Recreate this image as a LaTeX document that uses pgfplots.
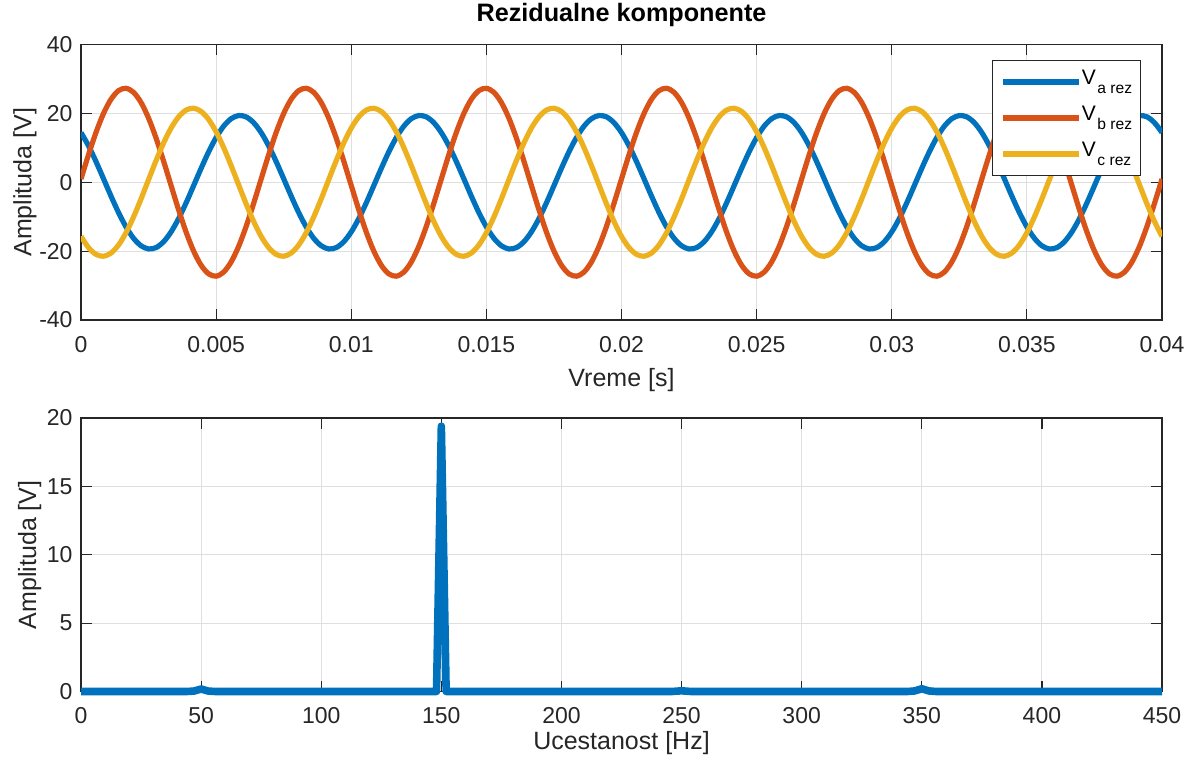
\documentclass[border=0pt]{standalone}
\usepackage{fontspec}
\setmainfont{Liberation Sans}
\usepackage{pgfplots}
\usepackage{pgfplotstable}
\pgfplotsset{compat=1.18}

\definecolor{mblue}{RGB}{0,114,189}
\definecolor{morange}{RGB}{217,83,25}
\definecolor{myellow}{RGB}{237,177,32}
\definecolor{axcol}{RGB}{38,38,38}
\definecolor{gridcol}{RGB}{223,223,223}

\newcommand{\vsub}[1]{V\kern0.8pt\raisebox{-4.6pt}{\fontsize{7.8}{8}\selectfont #1}}

% t [s], Va, Vb, Vc [V]
\pgfplotstableread{
t va vb vc
0 14.42 0.95 -15.73
0.0002778 10.57 7.98 -18.98
0.0005556 5.99 14.47 -20.95
0.0008333 1.01 19.97 -21.49
0.0011111 -4.03 24.10 -20.56
0.0013889 -8.81 26.60 -18.23
0.0016667 -12.98 27.28 -14.66
0.0019444 -16.27 26.11 -10.09
0.0022222 -18.45 23.15 -4.84
0.0025 -19.37 18.62 0.75
0.0027778 -18.98 12.82 6.29
0.0030556 -17.29 6.14 11.39
0.0033333 -14.42 -0.95 15.73
0.0036111 -10.57 -7.98 18.98
0.0038889 -5.99 -14.47 20.95
0.0041667 -1.01 -19.97 21.49
0.0044444 4.03 -24.10 20.56
0.0047222 8.81 -26.60 18.23
0.005 12.98 -27.28 14.66
0.0052778 16.27 -26.11 10.09
0.0055556 18.45 -23.15 4.84
0.0058333 19.37 -18.62 -0.75
0.0061111 18.98 -12.82 -6.29
0.0063889 17.29 -6.14 -11.39
0.0066667 14.42 0.95 -15.73
0.0069444 10.57 7.98 -18.98
0.0072222 5.99 14.47 -20.95
0.0075 1.01 19.97 -21.49
0.0077778 -4.03 24.10 -20.56
0.0080556 -8.81 26.60 -18.23
0.0083333 -12.98 27.28 -14.66
0.0086111 -16.27 26.11 -10.09
0.0088889 -18.45 23.15 -4.84
0.0091667 -19.37 18.62 0.75
0.0094444 -18.98 12.82 6.29
0.0097222 -17.29 6.14 11.39
0.01 -14.42 -0.95 15.73
0.0102778 -10.57 -7.98 18.98
0.0105556 -5.99 -14.47 20.95
0.0108333 -1.01 -19.97 21.49
0.0111111 4.03 -24.10 20.56
0.0113889 8.81 -26.60 18.23
0.0116667 12.98 -27.28 14.66
0.0119444 16.27 -26.11 10.09
0.0122222 18.45 -23.15 4.84
0.0125 19.37 -18.62 -0.75
0.0127778 18.98 -12.82 -6.29
0.0130556 17.29 -6.14 -11.39
0.0133333 14.42 0.95 -15.73
0.0136111 10.57 7.98 -18.98
0.0138889 5.99 14.47 -20.95
0.0141667 1.01 19.97 -21.49
0.0144444 -4.03 24.10 -20.56
0.0147222 -8.81 26.60 -18.23
0.015 -12.98 27.28 -14.66
0.0152778 -16.27 26.11 -10.09
0.0155556 -18.45 23.15 -4.84
0.0158333 -19.37 18.62 0.75
0.0161111 -18.98 12.82 6.29
0.0163889 -17.29 6.14 11.39
0.0166667 -14.42 -0.95 15.73
0.0169444 -10.57 -7.98 18.98
0.0172222 -5.99 -14.47 20.95
0.0175 -1.01 -19.97 21.49
0.0177778 4.03 -24.10 20.56
0.0180556 8.81 -26.60 18.23
0.0183333 12.98 -27.28 14.66
0.0186111 16.27 -26.11 10.09
0.0188889 18.45 -23.15 4.84
0.0191667 19.37 -18.62 -0.75
0.0194444 18.98 -12.82 -6.29
0.0197222 17.29 -6.14 -11.39
0.02 14.42 0.95 -15.73
0.0202778 10.57 7.98 -18.98
0.0205556 5.99 14.47 -20.95
0.0208333 1.01 19.97 -21.49
0.0211111 -4.03 24.10 -20.56
0.0213889 -8.81 26.60 -18.23
0.0216667 -12.98 27.28 -14.66
0.0219444 -16.27 26.11 -10.09
0.0222222 -18.45 23.15 -4.84
0.0225 -19.37 18.62 0.75
0.0227778 -18.98 12.82 6.29
0.0230556 -17.29 6.14 11.39
0.0233333 -14.42 -0.95 15.73
0.0236111 -10.57 -7.98 18.98
0.0238889 -5.99 -14.47 20.95
0.0241667 -1.01 -19.97 21.49
0.0244444 4.03 -24.10 20.56
0.0247222 8.81 -26.60 18.23
0.025 12.98 -27.28 14.66
0.0252778 16.27 -26.11 10.09
0.0255556 18.45 -23.15 4.84
0.0258333 19.37 -18.62 -0.75
0.0261111 18.98 -12.82 -6.29
0.0263889 17.29 -6.14 -11.39
0.0266667 14.42 0.95 -15.73
0.0269444 10.57 7.98 -18.98
0.0272222 5.99 14.47 -20.95
0.0275 1.01 19.97 -21.49
0.0277778 -4.03 24.10 -20.56
0.0280556 -8.81 26.60 -18.23
0.0283333 -12.98 27.28 -14.66
0.0286111 -16.27 26.11 -10.09
0.0288889 -18.45 23.15 -4.84
0.0291667 -19.37 18.62 0.75
0.0294444 -18.98 12.82 6.29
0.0297222 -17.29 6.14 11.39
0.03 -14.42 -0.95 15.73
0.0302778 -10.57 -7.98 18.98
0.0305556 -5.99 -14.47 20.95
0.0308333 -1.01 -19.97 21.49
0.0311111 4.03 -24.10 20.56
0.0313889 8.81 -26.60 18.23
0.0316667 12.98 -27.28 14.66
0.0319444 16.27 -26.11 10.09
0.0322222 18.45 -23.15 4.84
0.0325 19.37 -18.62 -0.75
0.0327778 18.98 -12.82 -6.29
0.0330556 17.29 -6.14 -11.39
0.0333333 14.42 0.95 -15.73
0.0336111 10.57 7.98 -18.98
0.0338889 5.99 14.47 -20.95
0.0341667 1.01 19.97 -21.49
0.0344444 -4.03 24.10 -20.56
0.0347222 -8.81 26.60 -18.23
0.035 -12.98 27.28 -14.66
0.0352778 -16.27 26.11 -10.09
0.0355556 -18.45 23.15 -4.84
0.0358333 -19.37 18.62 0.75
0.0361111 -18.98 12.82 6.29
0.0363889 -17.29 6.14 11.39
0.0366667 -14.42 -0.95 15.73
0.0369444 -10.57 -7.98 18.98
0.0372222 -5.99 -14.47 20.95
0.0375 -1.01 -19.97 21.49
0.0377778 4.03 -24.10 20.56
0.0380556 8.81 -26.60 18.23
0.0383333 12.98 -27.28 14.66
0.0386111 16.27 -26.11 10.09
0.0388889 18.45 -23.15 4.84
0.0391667 19.37 -18.62 -0.75
0.0394444 18.98 -12.82 -6.29
0.0397222 17.29 -6.14 -11.39
0.04 14.42 0.95 -15.73
}\signals

% f [Hz], |V| [V]
\pgfplotstableread{
f amp
0 0
44 0
47 0.03
50 0.18
53 0.03
56 0
146 0
148 0
150 19.4
152 0
154 0
246 0
250 0.05
254 0
344 0
347 0.04
350 0.2
353 0.04
356 0
450 0
}\spectrum

\pgfplotsset{
  mstyle/.style={
    scale only axis, width=540.5pt,
    scaled x ticks=false, scaled y ticks=false,
    axis line style={axcol, line width=0.6pt},
    tick align=inside, major tick length=5.4pt,
    tick style={axcol, line width=0.6pt},
    grid=major, grid style={gridcol, line width=0.5pt},
    tick label style={font=\fontsize{11.5}{13}\selectfont, text=axcol},
    xticklabel style={yshift=-4.6pt},
    yticklabel style={xshift=-0.7pt},
    label style={font=\fontsize{12.5}{15}\selectfont, text=axcol},
  }
}

\begin{document}
\begin{tikzpicture}
\useasboundingbox (0,0) rectangle (596pt,381.5pt);

\begin{axis}[mstyle,
  at={(40.5pt,221.5pt)}, anchor=south west, height=137.75pt,
  xmin=0, xmax=0.04, ymin=-40, ymax=40,
  xtick={0,0.005,0.01,0.015,0.02,0.025,0.03,0.035,0.04},
  xticklabels={0,0.005,0.01,0.015,0.02,0.025,0.03,0.035,0.04},
  ytick={-40,-20,0,20,40},
  yticklabels={-40,-20,0,20,40},
  xlabel={Vreme [s]},
  ylabel={Amplituda [V]},
  xlabel style={at={(axis description cs:0.5,-0.2432)}, anchor=base},
  ylabel style={at={(axis description cs:-0.0458,0.5)}, anchor=base},
  title={Rezidualne komponente},
  title style={at={(axis description cs:0.5,1.0417)}, anchor=base,
    font=\bfseries\fontsize{12.6}{15}\selectfont},
  legend cell align=left,
  legend image code/.code={\draw[#1] (0pt,0pt) -- (38pt,0pt);},
  legend style={at={(axis description cs:0.9806,0.9437)}, anchor=north east,
    draw=axcol, line width=0.5pt, fill=white,
    inner xsep=4.2pt, inner ysep=4.5pt, row sep=5.5pt,
    font=\fontsize{10.5}{12}\selectfont,
    nodes={inner sep=0pt, text height=7.5pt, text depth=5pt},
    /tikz/every even column/.append style={column sep=2.7pt}},
]
\addplot[mblue, line width=2.6pt, smooth] table[x=t, y=va] {\signals};
\addplot[morange, line width=2.6pt, smooth] table[x=t, y=vb] {\signals};
\addplot[myellow, line width=2.6pt, smooth] table[x=t, y=vc] {\signals};
\legend{\vsub{a rez}, \vsub{b rez}, \vsub{c rez}}
\end{axis}

\begin{axis}[mstyle,
  at={(40.5pt,35.75pt)}, anchor=south west, height=136.75pt,
  xmin=0, xmax=450, ymin=0, ymax=20,
  xtick={0,50,...,450},
  xticklabels={0,50,100,150,200,250,300,350,400,450},
  ytick={0,5,10,15,20},
  yticklabels={0,5,10,15,20},
  xlabel={Ucestanost [Hz]},
  ylabel={Amplituda [V]},
  xlabel style={at={(axis description cs:0.5,-0.2139)}, anchor=base},
  ylabel style={at={(axis description cs:-0.0416,0.5)}, anchor=base},
  clip=false,
]
\addplot[mblue, line width=3.8pt, line join=round] table[x=f, y=amp] {\spectrum};
\end{axis}
\end{tikzpicture}
\end{document}
